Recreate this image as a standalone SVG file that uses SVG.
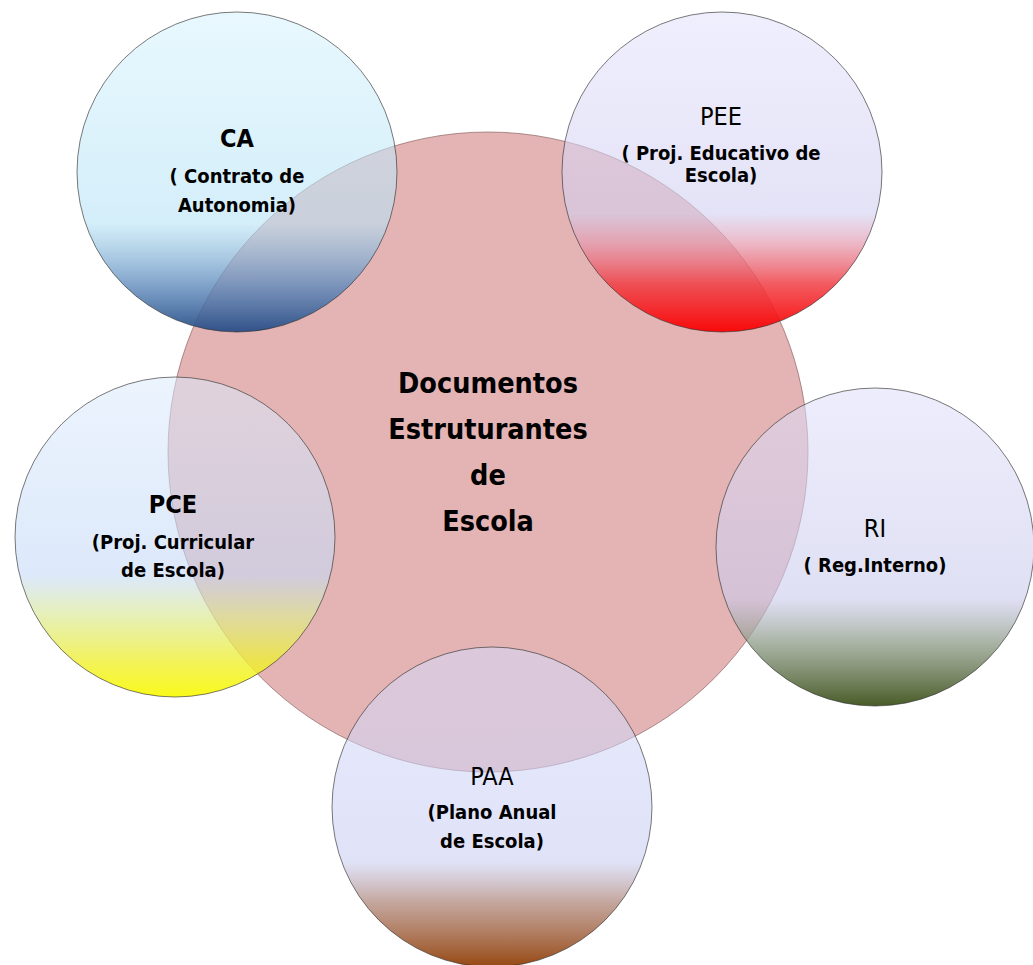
<svg xmlns="http://www.w3.org/2000/svg" width="1033" height="965" viewBox="0 0 1033 965">
  <style>
    .hub { fill: #E4B4B4; stroke: #7A5050; stroke-opacity: 0.6; stroke-width: 1; }
    .sat { stroke: #333333; stroke-opacity: 0.65; stroke-width: 1; }
    text { font-family: "DejaVu Sans Condensed", "DejaVu Sans", sans-serif; fill: #000000; text-anchor: middle; }
    .title { font-size: 28.5px; font-weight: bold; }
    .head { font-size: 25px; }
    .headb { font-size: 25px; font-weight: bold; }
    .sub { font-size: 20px; font-weight: bold; }
  </style>
  <defs>
    <linearGradient id="gCA" x1="0" y1="0" x2="0" y2="1">
      <stop offset="0" stop-color="#D5F2FD" stop-opacity="0.55"/>
      <stop offset="0.66" stop-color="#B7E3F6" stop-opacity="0.6"/>
      <stop offset="0.86" stop-color="#5C88BA" stop-opacity="0.8"/>
      <stop offset="1" stop-color="#274C86" stop-opacity="0.95"/>
    </linearGradient>
    <linearGradient id="gPEE" x1="0" y1="0" x2="0" y2="1">
      <stop offset="0" stop-color="#E3E1FC" stop-opacity="0.55"/>
      <stop offset="0.63" stop-color="#D2CFF0" stop-opacity="0.6"/>
      <stop offset="0.72" stop-color="#E49BB0" stop-opacity="0.7"/>
      <stop offset="0.85" stop-color="#F03D43" stop-opacity="0.85"/>
      <stop offset="1" stop-color="#FA0000" stop-opacity="0.95"/>
    </linearGradient>
    <linearGradient id="gPCE" x1="0" y1="0" x2="0" y2="1">
      <stop offset="0" stop-color="#DCEAFC" stop-opacity="0.55"/>
      <stop offset="0.62" stop-color="#C5DAF7" stop-opacity="0.6"/>
      <stop offset="0.74" stop-color="#DBE99B" stop-opacity="0.7"/>
      <stop offset="0.89" stop-color="#EFEF31" stop-opacity="0.8"/>
      <stop offset="1" stop-color="#F9F900" stop-opacity="0.9"/>
    </linearGradient>
    <linearGradient id="gRI" x1="0" y1="0" x2="0" y2="1">
      <stop offset="0" stop-color="#DEDEFA" stop-opacity="0.55"/>
      <stop offset="0.66" stop-color="#CBCBED" stop-opacity="0.6"/>
      <stop offset="0.8" stop-color="#8E9B87" stop-opacity="0.75"/>
      <stop offset="1" stop-color="#3E531B" stop-opacity="0.95"/>
    </linearGradient>
    <linearGradient id="gPAA" x1="0" y1="0" x2="0" y2="1">
      <stop offset="0" stop-color="#D5D9FA" stop-opacity="0.55"/>
      <stop offset="0.67" stop-color="#CBD0F3" stop-opacity="0.6"/>
      <stop offset="0.8" stop-color="#B0877A" stop-opacity="0.75"/>
      <stop offset="1" stop-color="#913E05" stop-opacity="0.95"/>
    </linearGradient>
  </defs>

  <rect width="1033" height="965" fill="#FFFFFF"/>

  <!-- central circle -->
  <g id="node-documentos">
    <circle class="hub" cx="488" cy="452" r="320"/>
    <text class="title" x="488" y="393">Documentos</text>
    <text class="title" x="488" y="439">Estruturantes</text>
    <text class="title" x="488" y="485">de</text>
    <text class="title" x="488" y="531">Escola</text>
  </g>

  <g id="node-ca">
    <circle class="sat" cx="237" cy="172" r="160" fill="url(#gCA)"/>
    <text class="headb" x="237" y="147">CA</text>
    <text class="sub" x="237" y="183">( Contrato de</text>
    <text class="sub" x="237" y="212">Autonomia)</text>
  </g>

  <g id="node-pee">
    <circle class="sat" cx="722" cy="172" r="160" fill="url(#gPEE)"/>
    <text class="head" x="721" y="125">PEE</text>
    <text class="sub" x="721" y="160">( Proj. Educativo de</text>
    <text class="sub" x="721" y="182">Escola)</text>
  </g>

  <g id="node-pce">
    <circle class="sat" cx="175" cy="537" r="160" fill="url(#gPCE)"/>
    <text class="headb" x="173" y="513">PCE</text>
    <text class="sub" x="173" y="549">(Proj. Curricular</text>
    <text class="sub" x="173" y="577">de Escola)</text>
  </g>

  <g id="node-ri">
    <circle class="sat" cx="875" cy="547" r="159" fill="url(#gRI)"/>
    <text class="head" x="875" y="537">RI</text>
    <text class="sub" x="875" y="572">( Reg.Interno)</text>
  </g>

  <g id="node-paa">
    <circle class="sat" cx="492" cy="807" r="160" fill="url(#gPAA)"/>
    <text class="head" x="492" y="785">PAA</text>
    <text class="sub" x="492" y="819">(Plano Anual</text>
    <text class="sub" x="492" y="848">de Escola)</text>
  </g>
</svg>
